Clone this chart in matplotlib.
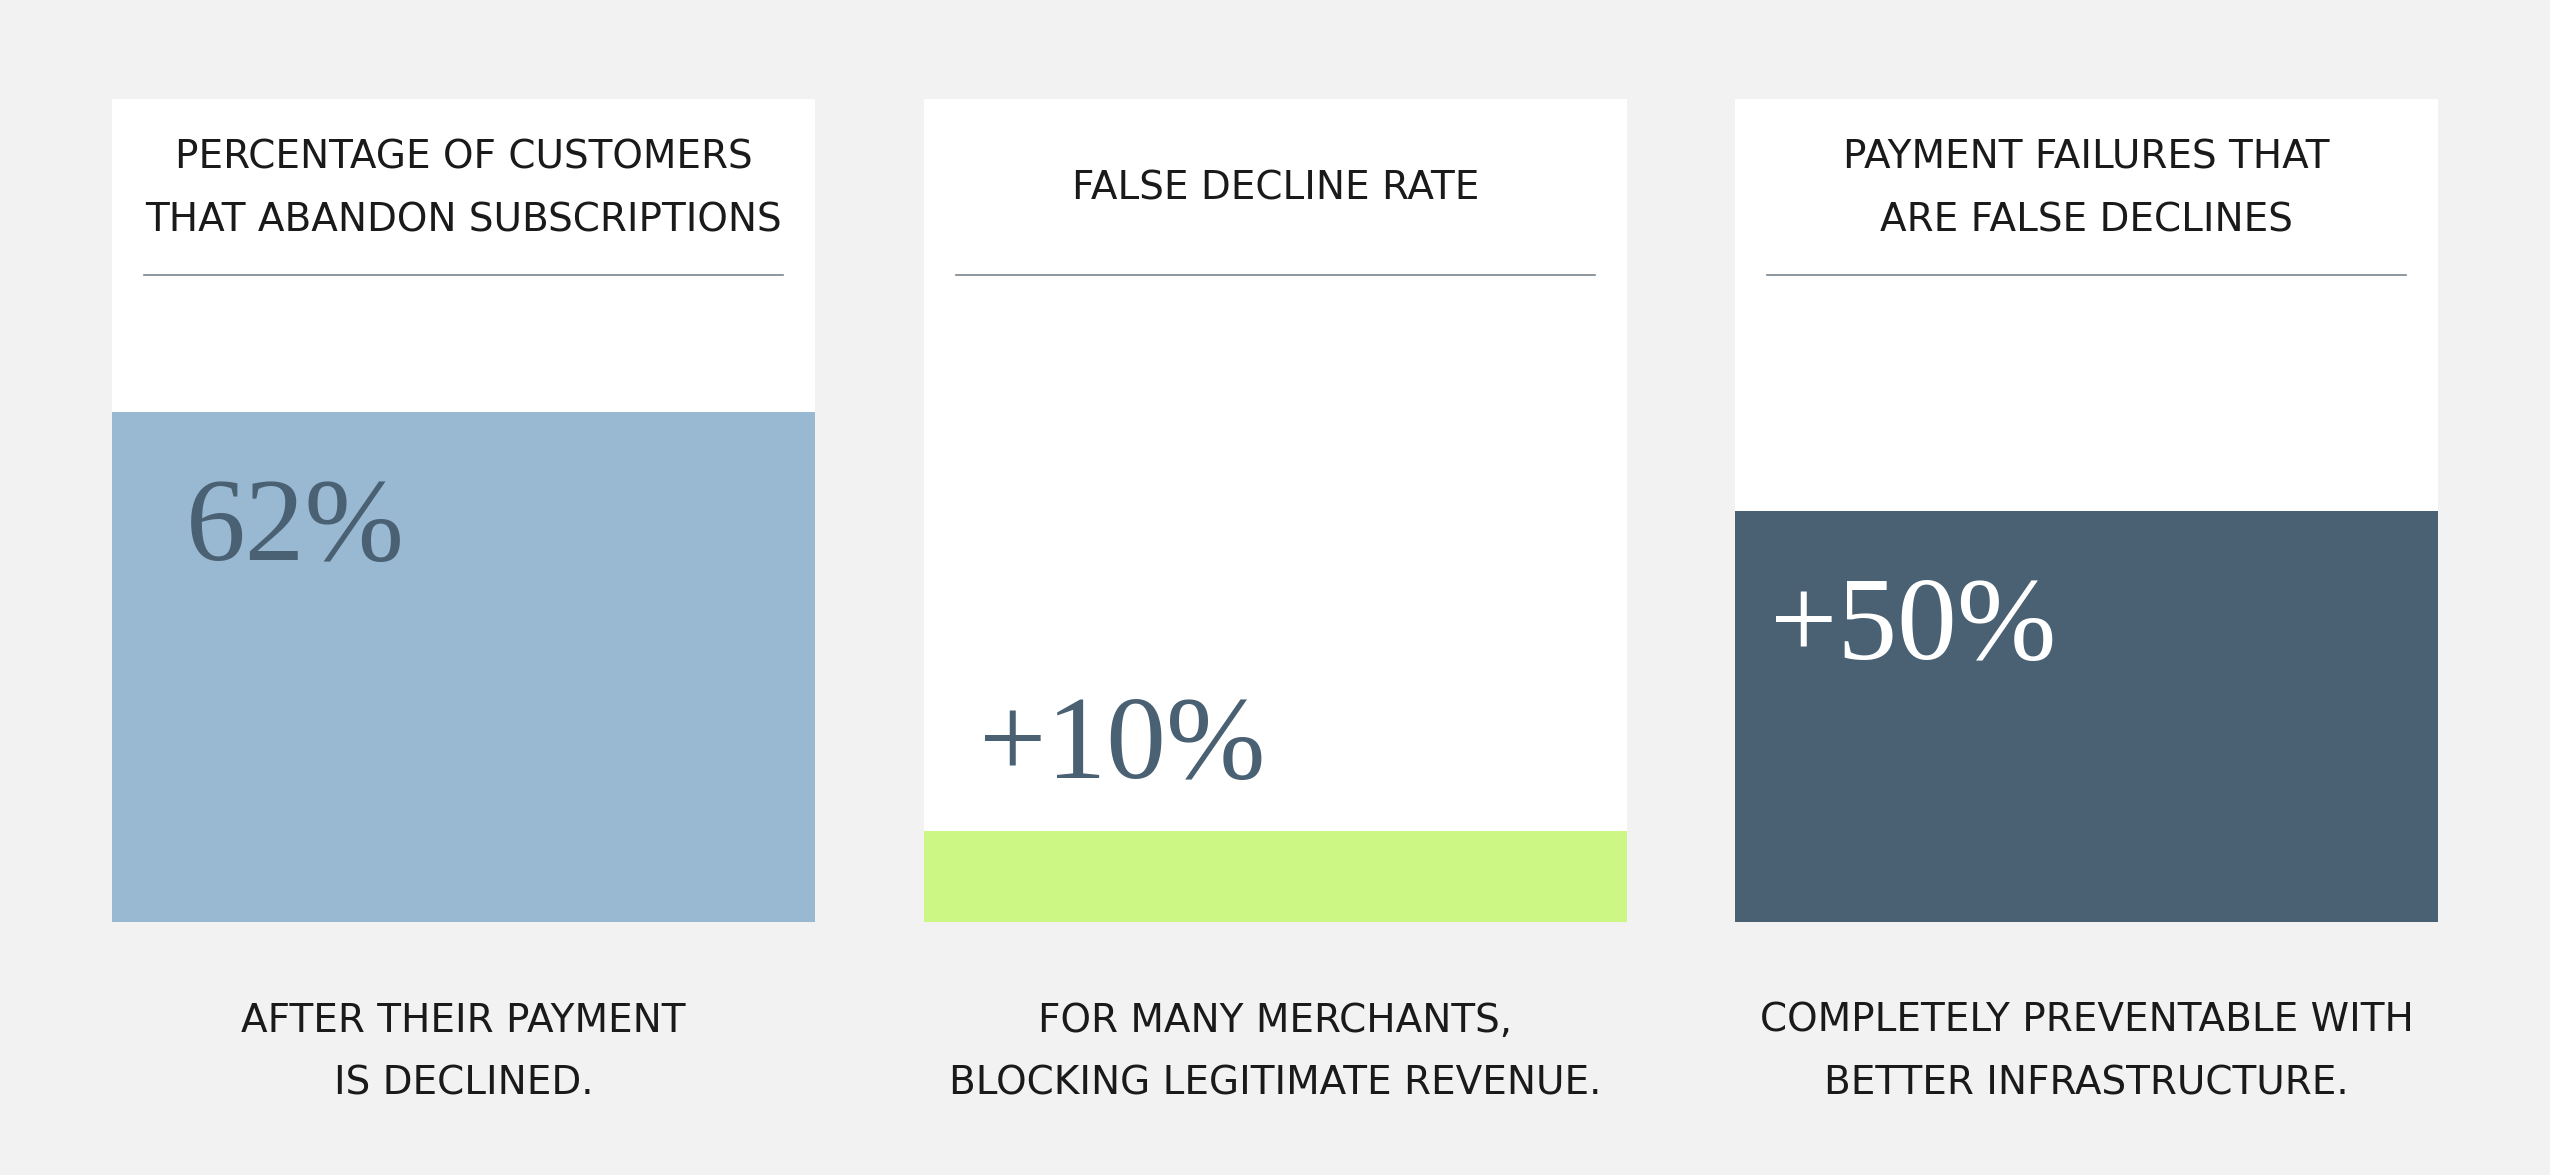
import matplotlib
matplotlib.use("Agg")
import matplotlib.pyplot as plt

# data
titles = ["PERCENTAGE OF CUSTOMERS\nTHAT ABANDON SUBSCRIPTIONS",
          "FALSE DECLINE RATE",
          "PAYMENT FAILURES THAT\nARE FALSE DECLINES"]
heights = [62, 11, 50]          # bar heights
labels = ["62%", "+10%", "+50%"]
captions = ["AFTER THEIR PAYMENT\nIS DECLINED.",
            "FOR MANY MERCHANTS,\nBLOCKING LEGITIMATE REVENUE.",
            "COMPLETELY PREVENTABLE WITH\nBETTER INFRASTRUCTURE."]

# styling
bar_colors = ["#99b8d1", "#cdf784", "#4a6073"]
label_colors = ["#4a6073", "#4a6073", "#ffffff"]
label_x = [0.105, 0.078, 0.05]
bg = "#f2f2f2"
sans = ["DejaVu Sans"]
serif = ["Liberation Serif", "DejaVu Serif"]

W, H = 2550, 1175
fig = plt.figure(figsize=(W / 100, H / 100), dpi=100, facecolor=bg)

lefts = [112, 924, 1735]
pw = 703
top, bottom = 99, 922

for i in range(3):
    ax = fig.add_axes([lefts[i] / W, (H - bottom) / H, pw / W, (bottom - top) / H])
    ax.set_facecolor("white")
    ax.set_xlim(0, 1)
    ax.set_ylim(0, 100)
    for s in ax.spines.values():
        s.set_visible(False)
    ax.set_xticks([])
    ax.set_yticks([])

    ax.bar(0.5, heights[i], width=1, color=bar_colors[i], linewidth=0)

    # title + divider
    ax.text(0.5, 0.891, titles[i], transform=ax.transAxes, ha="center", va="center",
            fontsize=28, family=sans, color="#1a1a1a", linespacing=1.83)
    ax.plot([0.045, 0.955], [0.786, 0.786], transform=ax.transAxes,
            color="#7a858c", lw=1.2)

    # value label: inside bar if tall enough, else above it
    if heights[i] >= 30:
        y = heights[i] - 18
    else:
        y = heights[i] + 6.5
    ax.text(label_x[i], y, labels[i], ha="left", va="baseline",
            fontsize=86, family=serif, color=label_colors[i])

    # caption below
    fig.text((lefts[i] + pw / 2) / W, (H - 1052) / H, captions[i], ha="center",
             va="center", fontsize=28, family=sans, color="#1a1a1a", linespacing=1.83)

fig.savefig("out.png", dpi=100, facecolor=bg)
